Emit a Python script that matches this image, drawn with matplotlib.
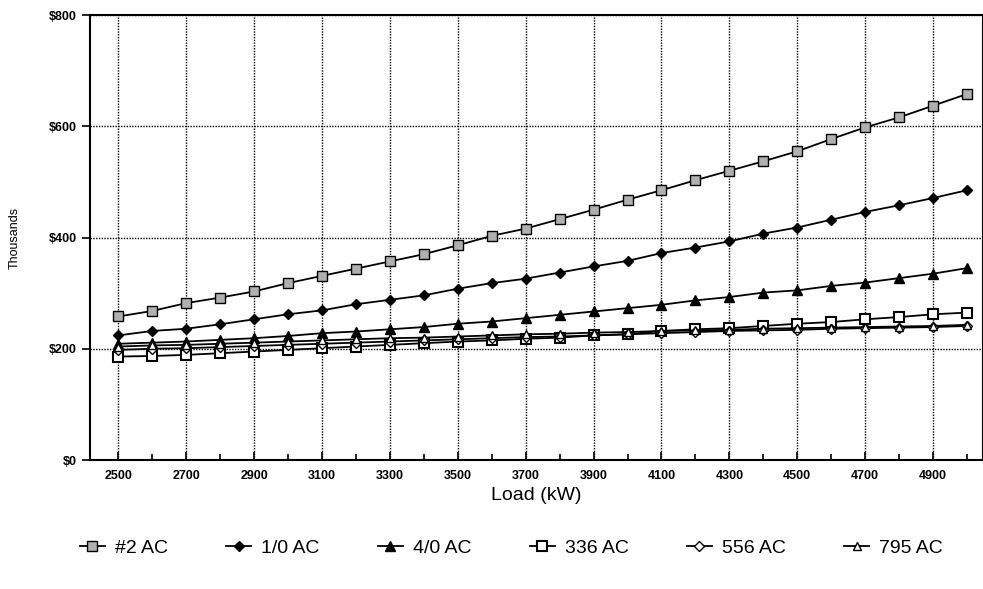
import matplotlib.pyplot as plt
from matplotlib.ticker import MultipleLocator, FuncFormatter

plt.rcParams['font.family'] = ['Liberation Sans', 'DejaVu Sans']

loads = list(range(2500, 5001, 100))

ac2 = [258, 268, 282, 292, 303, 318, 331, 344, 357, 370, 386, 403, 416,
       433, 450, 468, 485, 503, 520, 537, 555, 577, 598, 616, 637, 658]
ac1_0 = [224, 232, 236, 244, 253, 262, 269, 280, 288, 296, 308, 318, 326,
         337, 348, 358, 372, 382, 393, 407, 418, 432, 446, 458, 471, 485]
ac4_0 = [209, 211, 213, 216, 219, 223, 228, 231, 235, 239, 245, 249, 255,
         261, 267, 273, 279, 287, 293, 301, 305, 313, 319, 327, 335, 345]
ac336 = [186, 187, 189, 192, 195, 198, 201, 204, 207, 210, 213, 215, 218,
         220, 224, 226, 232, 235, 237, 241, 245, 248, 253, 257, 262, 265]
ac556 = [198, 200, 201, 203, 205, 207, 209, 211, 213, 215, 217, 219, 221,
         222, 224, 226, 228, 230, 232, 233, 234, 236, 237, 238, 239, 241]
ac795 = [204, 206, 207, 209, 211, 213, 215, 217, 219, 220, 222, 224, 226,
         227, 229, 230, 232, 233, 234, 236, 237, 238, 239, 240, 241, 243]

series = [
    ('#2 AC', ac2, dict(marker='s', mfc='#b0b0b0', mec='black', ms=6.5)),
    ('1/0 AC', ac1_0, dict(marker='D', mfc='black', mec='black', ms=5.5)),
    ('4/0 AC', ac4_0, dict(marker='^', mfc='black', mec='black', ms=6.5)),
    ('336 AC', ac336, dict(marker='s', mfc='white', mec='black', ms=6.5, mew=1.5)),
    ('556 AC', ac556, dict(marker='D', mfc='white', mec='black', ms=5)),
    ('795 AC', ac795, dict(marker='^', mfc='white', mec='black', ms=6)),
]

fig = plt.figure(figsize=(9.83, 5.89), dpi=100)
ax = fig.add_axes([0.0916, 0.219, 0.9084, 0.7555])

for label, vals, style in series:
    ax.plot(loads, vals, color='black', lw=1.3, label=label, **style)

ax.set_xlim(2417, 5047)
ax.set_ylim(0, 800)
ax.xaxis.set_major_locator(MultipleLocator(200))
ax.xaxis.set_minor_locator(MultipleLocator(100))
ax.set_xticks(list(range(2500, 5000, 200)))
ax.yaxis.set_major_locator(MultipleLocator(200))
ax.yaxis.set_major_formatter(FuncFormatter(lambda v, p: f'${v:.0f}'))

ax.grid(True, which='major', color='black', linestyle=(0, (1, 1)), lw=1)
ax.tick_params(axis='x', which='both', direction='in', length=6, width=1.2,
               labelsize=9, pad=7)
ax.tick_params(axis='x', which='minor', length=4)
ax.tick_params(axis='y', direction='out', length=6, width=1.2, labelsize=9)
for lab in ax.get_xticklabels() + ax.get_yticklabels():
    lab.set_fontweight('bold')
for sp in ax.spines.values():
    sp.set_linewidth(1.5)

ax.set_xlabel('Load (kW)', fontsize=14, labelpad=4)
ax.set_ylabel('Thousands', fontsize=9, labelpad=20)

fig.legend(loc='lower center', bbox_to_anchor=(0.52, 0.025), ncol=6,
           frameon=False, fontsize=14, handlelength=1.3, columnspacing=3.0,
           handletextpad=0.5)

fig.savefig('out.png', dpi=100)
